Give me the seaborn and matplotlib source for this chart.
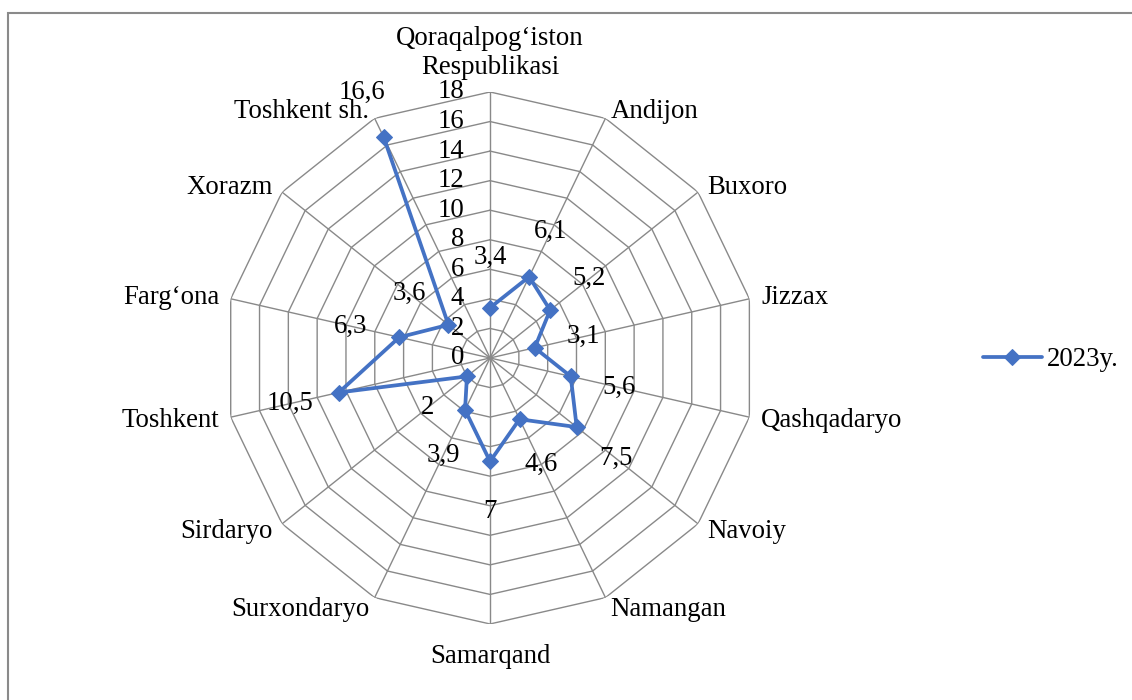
import numpy as np
import pandas as pd
import matplotlib
matplotlib.use('Agg')
import matplotlib.pyplot as plt
import seaborn as sns
from matplotlib.patches import Rectangle

# chart data
regions = ['Qoraqalpog‘iston\nRespublikasi', 'Andijon', 'Buxoro', 'Jizzax', 'Qashqadaryo',
           'Navoiy', 'Namangan', 'Samarqand', 'Surxondaryo', 'Sirdaryo', 'Toshkent',
           'Farg‘ona', 'Xorazm', 'Toshkent sh.']
values = [3.4, 6.1, 5.2, 3.1, 5.6, 7.5, 4.6, 7.0, 3.9, 2.0, 10.5, 6.3, 3.6, 16.6]
value_labels = ['3,4', '6,1', '5,2', '3,1', '5,6', '7,5', '4,6', '7', '3,9', '2',
                '10,5', '6,3', '3,6', '16,6']
ticks = [0, 2, 4, 6, 8, 10, 12, 14, 16, 18]
series_name = '2023y.'

sns.set_theme(style='white')
plt.rcParams['font.family'] = ['Liberation Serif', 'DejaVu Serif']
plt.rcParams['text.color'] = 'black'
fs = 19.3
blue = '#4472C4'
grid_c = '#898989'

n = len(regions)
angles = np.linspace(0, 2 * np.pi, n, endpoint=False)
closed = np.append(angles, angles[0])

fig = plt.figure(figsize=(11.32, 7.0), dpi=100)
fig.patch.set_facecolor('white')
fig.patches.append(Rectangle((8 / 1132, -0.05), 1.2, 1 - 13 / 700 + 0.05, transform=fig.transFigure,
                             fill=False, edgecolor='#8a8a8a', linewidth=1.5))

ax = fig.add_axes([0.1979, 0.1086, 0.47, 0.76], polar=True)
ax.set_theta_zero_location('N')
ax.set_theta_direction(-1)
ax.set_ylim(0, 18)
ax.grid(False)
ax.spines['polar'].set_visible(False)
ax.set_xticks([])
ax.set_yticks([])
ax.set_facecolor('none')

# polygon grid and spokes
for r in ticks[1:]:
    ax.plot(closed, [r] * (n + 1), color=grid_c, lw=1, zorder=1)
for a in angles:
    ax.plot([a, a], [0, 18], color=grid_c, lw=1, zorder=1)

# scale labels on the top spoke
for t in ticks:
    ax.annotate(str(t), xy=(0, t), xytext=(-26, 0), textcoords='offset pixels',
                ha='right', va='center', fontsize=fs, color='black')

# series
df = pd.DataFrame({'theta': closed, 'value': values + [values[0]]})
sns.lineplot(data=df, x='theta', y='value', sort=False, ax=ax, color=blue, lw=2.7,
             marker='D', markersize=8, markeredgecolor=blue, label=series_name,
             legend=False, zorder=3)
ax.set_xlabel('')
ax.set_ylabel('')

# data labels
for a, v, lab in zip(angles, values, value_labels):
    ax.annotate(lab, xy=(a, v), xytext=(50 * np.sin(a), 50 * np.cos(a)),
                textcoords='offset pixels', ha='center', va='center', fontsize=fs)

# category labels
for a, name in zip(angles, regions):
    s, c = np.sin(a), np.cos(a)
    if abs(s) < 0.1:
        ha = 'center'
        va = 'bottom' if c > 0 else 'top'
        off = (0, 12 if c > 0 else -20)
    else:
        ha = 'left' if s > 0 else 'right'
        va = 'center'
        off = (12 * s, 8 * c if c > 0 else 13 * c)
    ax.annotate(name, xy=(a, 18), xytext=off, textcoords='offset pixels',
                ha=ha, va=va, fontsize=fs, linespacing=1.2)

handles, labels = ax.get_legend_handles_labels()
fig.legend(handles, labels, loc='center left', bbox_to_anchor=(983 / 1132, 1 - 360 / 700),
           frameon=False, fontsize=fs, handlelength=2.2, handletextpad=0.2,
           borderpad=0, borderaxespad=0)

fig.savefig('out.png', dpi=100, facecolor='white')
